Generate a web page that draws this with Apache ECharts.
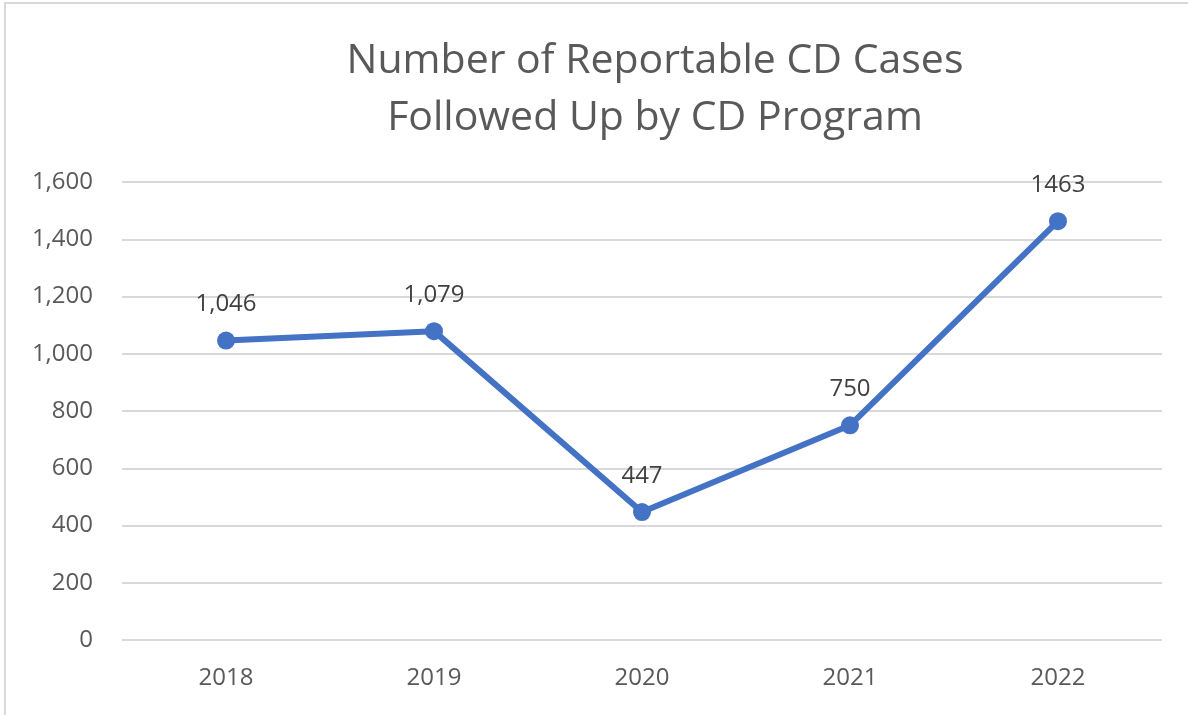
<!DOCTYPE html>
<html>
<head>
<meta charset="utf-8">
<script src="https://cdn.jsdelivr.net/npm/echarts@6/dist/echarts.min.js"></script>
<style>
  html, body { margin: 0; padding: 0; background: #fff; }
  #chart { width: 1188px; height: 715px; }
</style>
</head>
<body>
<div id="chart"></div>
<script>
// Yearly counts of reportable communicable-disease cases followed up
const years = ['2018', '2019', '2020', '2021', '2022'];
const cases = [1046, 1079, 447, 750, 1463];
const caseLabels = ['1,046', '1,079', '447', '750', '1463'];
const yTicks = { min: 0, max: 1600, interval: 200 };

const FONT = '"Open Sans", "Liberation Sans", sans-serif';

const chart = echarts.init(document.getElementById('chart'), null, { renderer: 'canvas' });
chart.setOption({
  backgroundColor: '#ffffff',
  animation: false,
  graphic: [{
    type: 'rect',
    shape: { x: 5, y: 3, width: 1200, height: 730 },
    style: { fill: 'none', stroke: '#d9d9d9', lineWidth: 2 },
    silent: true
  }],
  title: {
    text: 'Number of Reportable CD Cases\nFollowed Up by CD Program',
    left: 650,
    textAlign: 'center',
    top: 28,
    textStyle: {
      fontFamily: FONT,
      fontSize: 41,
      fontWeight: 'normal',
      color: '#595959',
      lineHeight: 57
    }
  },
  grid: { left: 122, right: 26, top: 182, bottom: 75, containLabel: false },
  xAxis: {
    type: 'category',
    data: years,
    boundaryGap: true,
    axisLine: { show: false },
    axisTick: { show: false },
    axisLabel: {
      fontFamily: FONT, fontSize: 24, color: '#595959', margin: 26
    }
  },
  yAxis: {
    type: 'value',
    min: yTicks.min,
    max: yTicks.max,
    interval: yTicks.interval,
    axisLine: { show: false },
    axisTick: { show: false },
    splitLine: { lineStyle: { color: '#d9d9d9', width: 2 } },
    axisLabel: {
      fontFamily: FONT, fontSize: 24, color: '#595959', margin: 29,
      formatter: v => v.toLocaleString('en-US')
    }
  },
  series: [{
    type: 'line',
    data: cases,
    symbol: 'circle',
    symbolSize: 18,
    lineStyle: { color: '#4472C4', width: 6 },
    itemStyle: { color: '#4472C4' },
    label: {
      show: true,
      position: 'top',
      distance: 15,
      fontFamily: FONT,
      fontSize: 24,
      color: '#404040',
      formatter: p => caseLabels[p.dataIndex]
    }
  }]
});
</script>
</body>
</html>
